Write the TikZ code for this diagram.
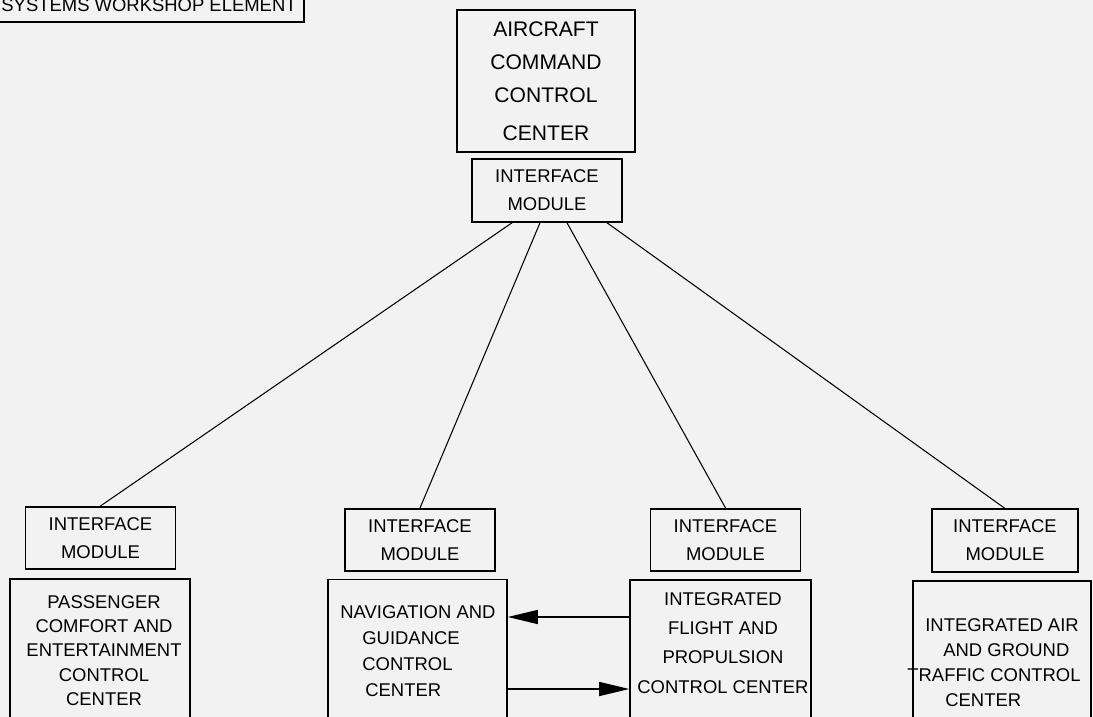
\documentclass[tikz,border=0pt]{standalone}
\usepackage{fontspec}
\setmainfont{Liberation Sans}
\usetikzlibrary{arrows.meta}

\begin{document}
\begin{tikzpicture}[x = 0.02cm, y = -0.02cm,
  box/.style = {draw, line width = 0.9pt, inner sep = 0pt},
  imod/.style = {box, minimum width = 3cm, minimum height = 1.25cm, align = center,
    font = \fontsize{10.5}{16}\selectfont},
  cbox/.style = {box, minimum width = 3.6cm, minimum height = 3.2cm},
  txt/.style = {inner sep = 0pt},
  link/.style = {line width = 0.6pt},
  fat/.style = {line width = 0.8pt, -{Triangle[length = 0.6cm, width = 0.28cm]}}]
\fill[black!5] (0, 0) rectangle (1093, 717);
\useasboundingbox (0, 0) rectangle (1093, 717);

%top
\node[box, minimum width = 6.2cm, minimum height = 0.68cm,
  font = \fontsize{10.5}{12}\selectfont] (tag) at (149, 5) {SYSTEMS WORKSHOP ELEMENT};
\node[box, minimum width = 3.56cm, minimum height = 2.84cm, align = center,
  font = \fontsize{12}{18.8}\selectfont] (acc) at (546, 81)
  {AIRCRAFT\\COMMAND\\CONTROL\\[2.8pt]CENTER};
\node[imod, minimum height = 1.26cm] (imtop) at (547, 190.5) {INTERFACE\\MODULE};

%interface modules
\node[imod] (im1) at (100.5, 538) {INTERFACE\\MODULE};
\node[imod] (im2) at (420, 540) {INTERFACE\\MODULE};
\node[imod] (im3) at (725.5, 540) {INTERFACE\\MODULE};
\node[imod, minimum width = 2.92cm] (im4) at (1005, 540.5) {INTERFACE\\MODULE};

%control centers
\node[cbox] (pcc) at (100, 659) {};
\node[cbox, minimum width = 3.58cm] (ngc) at (417.5, 659.5) {};
\node[cbox, minimum width = 3.62cm] (ifp) at (720.5, 660) {};
\node[cbox, minimum width = 3.56cm] (atc) at (1002, 661) {};

\node[txt, align = center, font = \fontsize{10.5}{13.8}\selectfont] (pcct) at (104, 650.5)
  {PASSENGER\\COMFORT AND\\ENTERTAINMENT\\CONTROL\\CENTER};
\node[txt, align = left, anchor = west, font = \fontsize{10.5}{14.8}\selectfont] (ngct) at (340, 651)
  {NAVIGATION AND\\\hspace*{0.44cm}GUIDANCE\\\hspace*{0.44cm}CONTROL\\\hspace*{0.5cm}CENTER};
\node[txt, align = center, font = \fontsize{10.5}{16.6}\selectfont] (ifpt) at (723, 643)
  {INTEGRATED\\FLIGHT AND\\PROPULSION\\CONTROL CENTER};
\node[txt, align = left, anchor = west, font = \fontsize{10.5}{14.2}\selectfont] (atct) at (907, 662.5)
  {\hspace*{0.36cm}INTEGRATED AIR\\\hspace*{0.72cm}AND GROUND\\TRAFFIC CONTROL\\\hspace*{0.76cm}CENTER};

\draw[link] (imtop.south -| 512, 0) -- (im1.north);
\draw[link] (imtop.south -| 540, 0) -- (im2.north);
\draw[link] (imtop.south -| 567, 0) -- (im3.north);
\draw[link] (imtop.south -| 607, 0) -- (im4.north);

\draw[fat] (ifp.west |- 0, 617) -- (ngc.east |- 0, 617);
\draw[fat] (ngc.east |- 0, 689) -- (ifp.west |- 0, 689);
\end{tikzpicture}
\end{document}
